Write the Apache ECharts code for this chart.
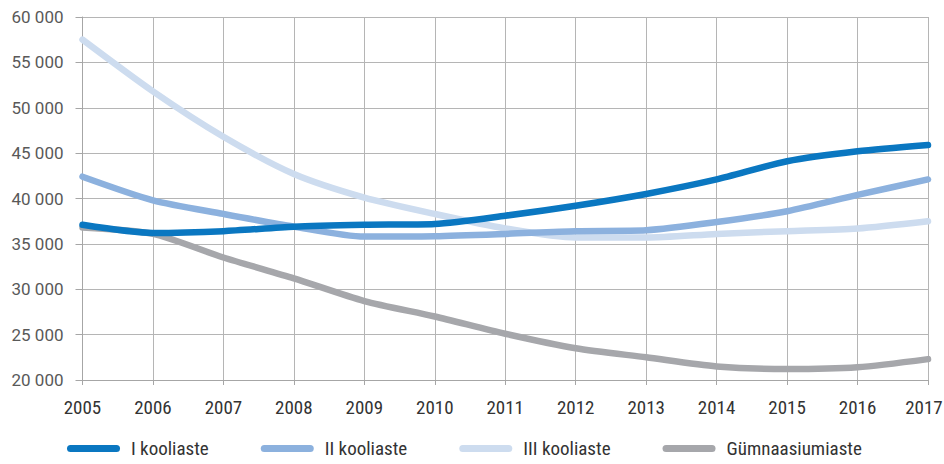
<!DOCTYPE html>
<html>
<head>
<meta charset="utf-8">
<script src="https://cdn.jsdelivr.net/npm/echarts@6/dist/echarts.min.js"></script>
<style>
  html, body { margin: 0; padding: 0; background: #fff; }
  #chart { width: 944px; height: 464px; }
</style>
</head>
<body>
<div id="chart"></div>
<script>
// School years and pupil counts per school level
const years = ['2005', '2006', '2007', '2008', '2009', '2010', '2011', '2012', '2013', '2014', '2015', '2016', '2017'];
const level1 = [37100, 36200, 36400, 36900, 37100, 37200, 38100, 39200, 40500, 42100, 44100, 45200, 45900];
const level2 = [42400, 39800, 38300, 36900, 35800, 35850, 36100, 36400, 36500, 37400, 38600, 40400, 42100];
const level3 = [57500, 51800, 46800, 42700, 40100, 38300, 36700, 35700, 35700, 36100, 36400, 36700, 37500];
const gymnasium = [36800, 36100, 33500, 31200, 28700, 27000, 25100, 23500, 22500, 21500, 21200, 21400, 22300];
const seriesNames = ['I kooliaste', 'II kooliaste', 'III kooliaste', 'Gümnaasiumiaste'];

const colors = ['#0a77c1', '#8cb1de', '#cddcef', '#a6a7ab'];
const narrow = '"Roboto Condensed", Roboto, sans-serif';
const pill = 'path://M3.5,0 H49.5 A3.5,3.5 0 0 1 49.5,7 H3.5 A3.5,3.5 0 0 1 3.5,0 Z';

function makeLine(name, data, color) {
  return {
    name: name,
    type: 'line',
    data: data,
    smooth: 0.25,
    symbol: 'none',
    lineStyle: { width: 6.5, color: color, cap: 'round', join: 'round' },
    itemStyle: { color: color }
  };
}

const chart = echarts.init(document.getElementById('chart'), null, { renderer: 'svg' });
chart.setOption({
  animation: false,
  color: colors,
  grid: { left: 82.5, right: 16, top: 17, bottom: 84, containLabel: false, outerBoundsMode: 'none' },
  legend: {
    bottom: 1,
    left: 62,
    itemWidth: 53,
    itemHeight: 7,
    itemGap: 52,
    icon: pill,
    textStyle: { fontFamily: narrow, fontSize: 19, color: '#333', padding: [0, 0, 0, 6] },
    data: seriesNames
  },
  xAxis: {
    type: 'category',
    data: years,
    boundaryGap: false,
    axisLine: { lineStyle: { color: '#a6a6a6', width: 1 } },
    axisTick: { show: true, interval: 0, length: 5, lineStyle: { color: '#a6a6a6' } },
    axisLabel: {
      interval: 0,
      hideOverlap: false,
      fontFamily: narrow,
      fontSize: 19,
      color: '#333',
      margin: 18,
      // nudge the final year inward so it stays inside the canvas
      formatter: (v, i) => (i === years.length - 1 ? '{last|' + v + '}' : v),
      rich: { last: { fontFamily: narrow, fontSize: 19, color: '#333', padding: [0, 8, 0, 0] } }
    },
    splitLine: { show: true, interval: 0, lineStyle: { color: '#b5b5b5', width: 1 } }
  },
  yAxis: {
    type: 'value',
    min: 20000,
    max: 60000,
    interval: 5000,
    axisLine: { show: true, lineStyle: { color: '#a6a6a6', width: 1 } },
    axisTick: { show: true, length: 7, lineStyle: { color: '#a6a6a6' } },
    axisLabel: {
      fontFamily: 'Roboto',
      fontSize: 17,
      color: '#595959',
      margin: 19,
      formatter: v => String(v).replace(/\B(?=(\d{3})+(?!\d))/g, ' ')
    },
    splitLine: { show: true, lineStyle: { color: '#b5b5b5', width: 1 } }
  },
  series: [
    makeLine(seriesNames[2], level3, colors[2]),
    makeLine(seriesNames[3], gymnasium, colors[3]),
    makeLine(seriesNames[1], level2, colors[1]),
    makeLine(seriesNames[0], level1, colors[0])
  ]
});
</script>
</body>
</html>
